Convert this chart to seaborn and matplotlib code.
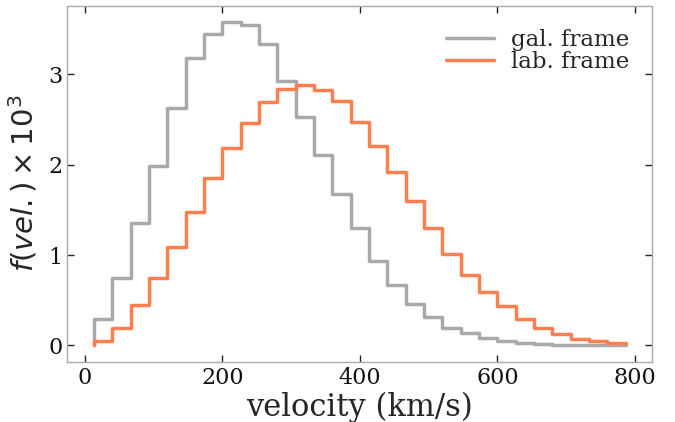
import matplotlib
matplotlib.use("Agg")
import pandas as pd
import matplotlib.pyplot as plt
import seaborn as sns

# bin centres (km/s) and normalised velocity distributions (x 10^3)
velocity = [13.3, 40.0, 66.7, 93.3, 120.0, 146.7, 173.3, 200.0, 226.7, 253.3,
            280.0, 306.7, 333.3, 360.0, 386.7, 413.3, 440.0, 466.7, 493.3, 520.0,
            546.7, 573.3, 600.0, 626.7, 653.3, 680.0, 706.7, 733.3, 760.0, 786.7]
gal_frame = [0.0, 0.29, 0.75, 1.35, 1.99, 2.63, 3.18, 3.45, 3.58, 3.54,
             3.33, 2.93, 2.53, 2.11, 1.68, 1.30, 0.93, 0.67, 0.46, 0.32,
             0.195, 0.14, 0.08, 0.044, 0.022, 0.015, 0.005, 0.003, 0.002, 0.001]
lab_frame = [0.0, 0.05, 0.19, 0.45, 0.75, 1.09, 1.48, 1.85, 2.19, 2.46,
             2.69, 2.84, 2.88, 2.83, 2.70, 2.47, 2.21, 1.92, 1.60, 1.30,
             1.01, 0.78, 0.59, 0.44, 0.29, 0.19, 0.13, 0.077, 0.048, 0.022]

df = pd.DataFrame({"velocity": velocity, "gal": gal_frame, "lab": lab_frame})

sns.set_style("ticks")
plt.rcParams["font.family"] = "DejaVu Serif"
plt.rcParams["mathtext.fontset"] = "dejavusans"

fig = plt.figure(figsize=(6.75, 4.22), dpi=100)
ax = fig.add_axes([0.0997, 0.143, 0.8667, 0.8435])

sns.lineplot(data=df, x="velocity", y="gal", color="darkgray", lw=2.5,
             drawstyle="steps-pre", label="gal. frame", ax=ax)
sns.lineplot(data=df, x="velocity", y="lab", color="coral", lw=2.5,
             drawstyle="steps-pre", label="lab. frame", ax=ax)

ax.set_xlabel("velocity (km/s)", fontsize=22, labelpad=2)
ax.set_ylabel(r"$f(vel.) \times 10^3$", fontsize=21, family="DejaVu Sans",
              labelpad=6)
ax.set_xticks([0, 200, 400, 600, 800])
ax.set_yticks([0, 1, 2, 3])
ax.tick_params(direction="in", length=5, width=1, labelsize=16,
               top=True, right=True, color="#222222", labelcolor="#111111")
for sp in ax.spines.values():
    sp.set_color("#aaaaaa")
    sp.set_linewidth(1)

ax.legend(loc="upper right", frameon=False, fontsize=16.5, handlelength=2.1,
          labelspacing=0.0, handletextpad=0.75, borderaxespad=0.6)

fig.savefig("out.png", dpi=100)
